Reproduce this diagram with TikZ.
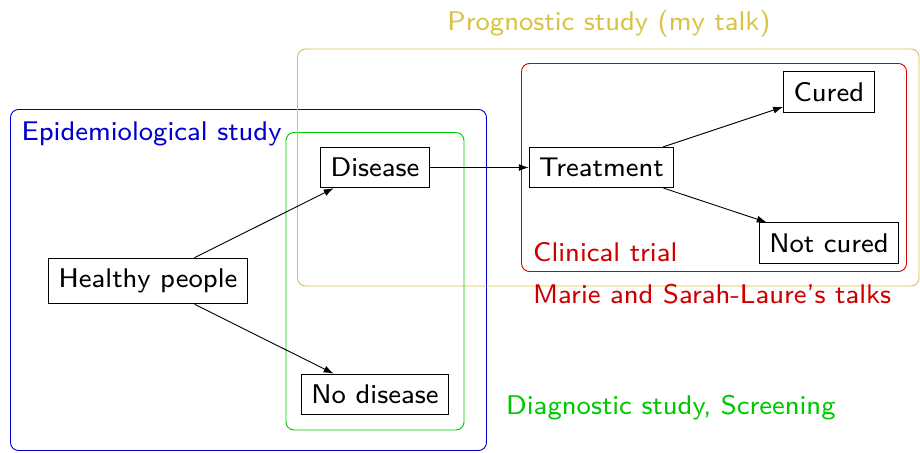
\documentclass[tikz,border=0pt]{standalone}
\usepackage{fontspec}
\setsansfont{lmsans8-regular.otf}
\usetikzlibrary{arrows.meta}
\definecolor{cblue}{RGB}{0,0,205}
\definecolor{cgreen}{RGB}{0,200,0}
\definecolor{cred}{RGB}{205,0,0}
\definecolor{cyell}{RGB}{215,195,70}
\begin{document}
\begin{tikzpicture}[x=1pt,y=-1pt,
  every node/.style={font=\sffamily\fontsize{27}{32}\selectfont},
  box/.style={draw,line width=0.9pt,inner xsep=10pt,inner ysep=10.7pt},
  region/.style={line width=0.9pt,rounded corners=8pt},
  lab/.style={anchor=base west,inner sep=0pt},
  arr/.style={-{Latex[length=10pt,width=7pt]},line width=0.9pt}]
\useasboundingbox (0,0) rectangle (920,452);
% regions
\draw[region,cblue] (10.5,109.5) rectangle (486.5,450.5);
\draw[region,cgreen] (286,132.5) rectangle (464,430);
\draw[region,cyell] (297.5,49) rectangle (919,286);
\draw[region,cred] (521.5,63.5) rectangle (906.5,271.5);
% labels
\node[lab,text=cblue] (lepi) at (21.5,140) {Epidemiological study};
\node[anchor=base,inner sep=0pt,text=cyell] (lprog) at (609,30.5) {Prognostic study (my talk)};
\node[lab,text=cred] (lclin) at (533,261.5) {Clinical trial};
\node[lab,text=cred] (lmarie) at (533,303.5) {Marie and Sarah-Laure's talks};
\node[lab,text=cgreen] (ldiag) at (506,414.5) {Diagnostic study, Screening};
% nodes
\node[box] (healthy) at (148,281) {Healthy people};
\node[box] (disease) at (375,167.5) {Disease};
\node[box] (nodis) at (375,394.3) {No disease};
\node[box] (treat) at (601.5,167.5) {Treatment};
\node[box] (cured) at (828.8,91.7) {Cured};
\node[box] (notcured) at (829,243) {Not cured};
% edges
\draw[arr] (healthy) -- (disease);
\draw[arr] (healthy) -- (nodis);
\draw[arr] (disease) -- (treat);
\draw[arr] (treat) -- (cured);
\draw[arr] (treat) -- (notcured);
\end{tikzpicture}
\end{document}
